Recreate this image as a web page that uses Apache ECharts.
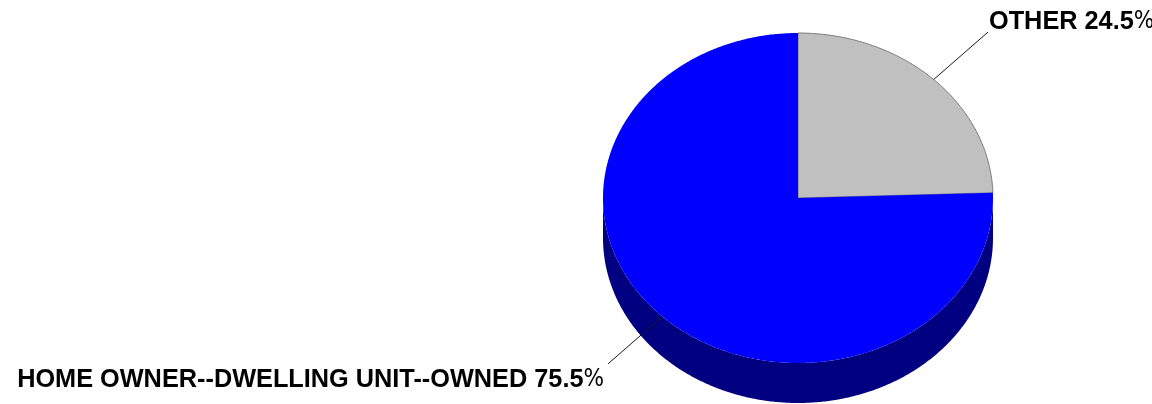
<!DOCTYPE html>
<html>
<head>
<meta charset="utf-8">
<script src="https://cdn.jsdelivr.net/npm/echarts@6/dist/echarts.min.js"></script>
<style>
  html, body { margin: 0; padding: 0; background: #ffffff; }
  #chart { width: 1152px; height: 404px; }
</style>
</head>
<body>
<div id="chart"></div>
<script>
// Slice names and their shares (percent)
const categories = ['OTHER', 'HOME OWNER--DWELLING UNIT--OWNED'];
const shares = [24.5, 75.5];
const topColors = ['#C0C0C0', '#0000FF'];
const sideColors = ['#808080', '#000080'];

const total = shares.reduce((a, b) => a + b, 0);
const starts = [];
let acc = 0;
shares.forEach(v => { starts.push(acc); acc += v; });

// Tilted disc: top ellipse, extrusion depth, label line reach
const geo = { cx: 798, cy: 198, rx: 195, ry: 165, depth: 40, labelK: 1.4 };
const FONT = '"Liberation Sans", Arial, sans-serif';
const FONT_NARROW = '"Liberation Sans Narrow", "DejaVu Sans Condensed", Arial, sans-serif';

function pt(theta, dy) {
  return [geo.cx + geo.rx * Math.cos(theta), geo.cy - geo.ry * Math.sin(theta) + (dy || 0)];
}
function arc(a0, a1, dy) {
  const steps = Math.max(2, Math.ceil(Math.abs(a1 - a0) * 180 / Math.PI * 2));
  const pts = [];
  for (let i = 0; i <= steps; i++) pts.push(pt(a0 + (a1 - a0) * i / steps, dy));
  return pts;
}

function renderSlice(params, api) {
  const i = params.dataIndex;
  const value = api.value(0);
  const th0 = Math.PI / 2 - 2 * Math.PI * starts[i] / total; // clockwise from 12 o'clock
  const th1 = th0 - 2 * Math.PI * value / total;
  const children = [];

  // Front wall: only the part of the rim facing the viewer (lower half)
  for (let k = -1; k <= 1; k++) {
    const lo = Math.max(th1, -Math.PI + 2 * Math.PI * k);
    const hi = Math.min(th0, 2 * Math.PI * k);
    if (hi > lo) {
      const upper = arc(hi, lo, 0);
      const lower = arc(lo, hi, geo.depth);
      children.push({
        type: 'polygon',
        shape: { points: upper.concat(lower) },
        style: { fill: sideColors[i], stroke: null }
      });
    }
  }

  // Top face
  children.push({
    type: 'polygon',
    shape: { points: [[geo.cx, geo.cy]].concat(arc(th0, th1, 0)) },
    style: {
      fill: topColors[i],
      stroke: i === 0 ? '#7a7a7a' : null,
      lineWidth: 1
    }
  });

  // Leader line and label
  const mid = (th0 + th1) / 2;
  const p0 = pt(mid, 0);
  const p1 = [geo.cx + geo.labelK * geo.rx * Math.cos(mid), geo.cy - geo.labelK * geo.ry * Math.sin(mid)];
  children.push({
    type: 'polyline',
    shape: { points: [p0, p1] },
    style: { stroke: '#1a1a1a', lineWidth: 1, fill: null }
  });
  const rightSide = Math.cos(mid) >= 0;
  const above = Math.sin(mid) >= 0;
  children.push({
    type: 'text',
    style: {
      text: '{b|' + categories[i] + ' ' + value.toFixed(1) + '}{p|%}',
      x: rightSide ? p1[0] + 1 : p1[0] - 4,
      y: above ? p1[1] - 10 : p1[1] + 16,
      align: rightSide ? 'left' : 'right',
      verticalAlign: 'middle',
      rich: {
        b: { fontFamily: FONT, fontWeight: 'bold', fontSize: 25.3, fill: '#000000' },
        p: { fontFamily: FONT_NARROW, fontWeight: 'normal', fontSize: 24, fill: '#000000' }
      }
    }
  });

  return { type: 'group', children: children };
}

const chart = echarts.init(document.getElementById('chart'));
chart.setOption({
  animation: false,
  backgroundColor: '#ffffff',
  series: [{
    type: 'custom',
    coordinateSystem: 'none',
    renderItem: renderSlice,
    data: shares.map((v, i) => ({ name: categories[i], value: [v] }))
  }]
});
</script>
</body>
</html>
